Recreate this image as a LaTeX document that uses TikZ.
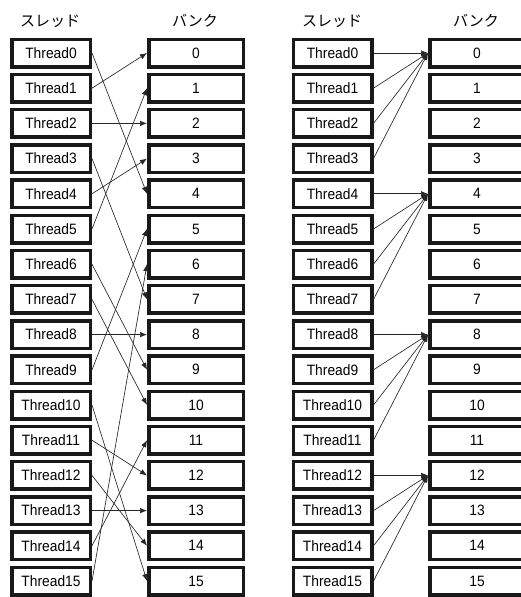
\documentclass[tikz,border=0pt]{standalone}
\usepackage{fontspec}
\setmainfont{Liberation Sans}
\newfontfamily\latn[FakeStretch=0.92]{Liberation Sans}
\newfontfamily\jp{Noto Sans CJK JP}
\usetikzlibrary{arrows.meta}
\begin{document}
\begin{tikzpicture}[x=1pt,y=-1pt,
 box/.style={draw=black!90, line width=3.5pt, minimum height=27.5pt, inner sep=0pt, font=\latn\fontsize{15}{15}\selectfont},
 tbox/.style={box, minimum width=78.5pt},
 bbox/.style={box, minimum width=94.5pt},
 ttl/.style={font=\jp\fontsize{15}{15}\selectfont},
 conn/.style={draw=black!85, line width=0.65pt, -{Latex[length=7pt,width=5.5pt]}}]
\useasboundingbox (0,0) rectangle (521,597);
\node[ttl] (t1) at (50,21) {スレッド};
\node[ttl] (t2) at (195,21) {バンク};
\node[ttl] (t3) at (332,21) {スレッド};
\node[ttl] (t4) at (476,21) {バンク};
\foreach \i in {0,...,15} {
  \node[tbox] (a\i) at (51,{53+35.2*\i}) {Thread\i};
  \node[bbox] (b\i) at (196,{53+35.2*\i}) {\i};
  \node[tbox] (c\i) at (332.5,{53+35.2*\i}) {Thread\i};
  \node[bbox] (d\i) at (477,{53+35.2*\i}) {\i};
}
\foreach \s/\t in {0/4,1/0,2/2,3/7,4/3,5/1,6/9,7/10,8/8,9/5,10/15,11/12,12/14,13/13,14/11,15/6}
  \draw[conn] (a\s.east) -- (b\t.west);
\foreach \s/\t in {0/0,1/0,2/0,3/0,4/4,5/4,6/4,7/4,8/8,9/8,10/8,11/8,12/12,13/12,14/12,15/12}
  \draw[conn] (c\s.east) -- (d\t.west);
\end{tikzpicture}
\end{document}
